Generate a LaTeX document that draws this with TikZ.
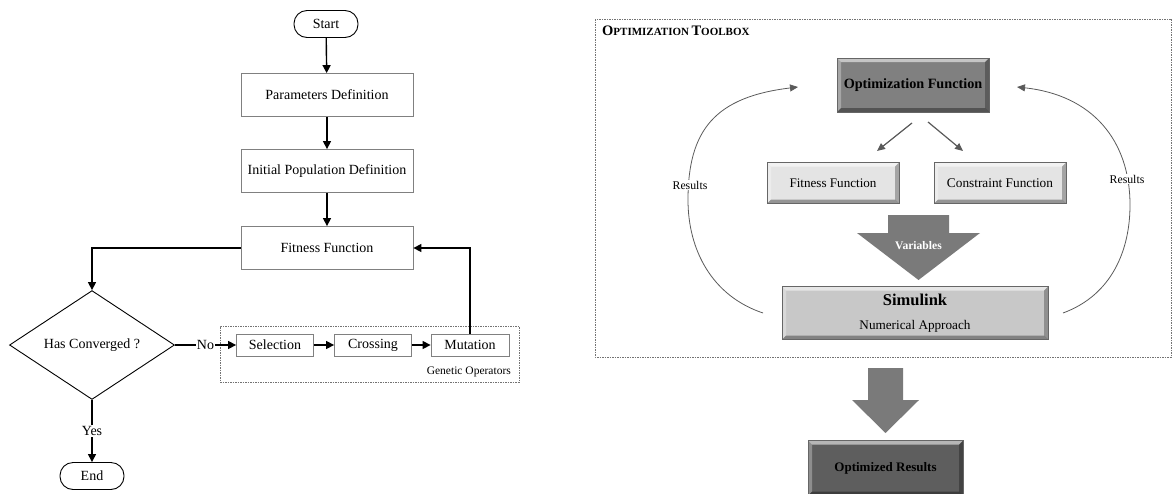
\documentclass[tikz,border=0pt]{standalone}
\usepackage{fontspec}
\setmainfont{Liberation Serif}
\usetikzlibrary{shapes.geometric,arrows.meta,calc}
\definecolor{optfill}{HTML}{808080}
\definecolor{lightfill}{HTML}{E4E4E4}
\definecolor{simfill}{HTML}{C8C8C8}
\definecolor{resfill}{HTML}{5E5E5E}
\definecolor{bigarrow}{HTML}{7A7A7A}
\definecolor{curvecol}{HTML}{5A5A5A}
\begin{document}
\begin{tikzpicture}[x=1pt,y=-1pt,
  txt/.style={font=\fontsize{14}{16}\selectfont},
  pill/.style={txt,draw=black,line width=0.9pt,rounded corners=13pt,minimum width=64pt,minimum height=27pt,inner sep=0pt},
  flowbox/.style={txt,draw=black!50,line width=0.8pt,fill=white,minimum width=172pt,minimum height=43pt,inner sep=0pt},
  opbox/.style={flowbox,minimum width=77pt,minimum height=22pt},
  decision/.style={txt,diamond,draw=black,line width=0.9pt,minimum width=165pt,minimum height=104pt,inner sep=0pt},
  arr/.style={-{Triangle[length=8pt,width=8pt]},line width=1.4pt},
  lbl/.style={txt,fill=white,inner sep=1pt},
  dashbox/.style={draw=black!55,line width=0.6pt,dash pattern=on 1.5pt off 1pt},
  bevel/.style={path picture={
    \fill[white,opacity=.55] (path picture bounding box.north west) -- (path picture bounding box.north east) -- ([shift={(-4pt,-4pt)}]path picture bounding box.north east) -- ([shift={(4pt,-4pt)}]path picture bounding box.north west) -- cycle;
    \fill[white,opacity=.3] (path picture bounding box.north west) -- ([shift={(4pt,-4pt)}]path picture bounding box.north west) -- ([shift={(4pt,4pt)}]path picture bounding box.south west) -- (path picture bounding box.south west) -- cycle;
    \fill[black,opacity=.35] (path picture bounding box.south west) -- ([shift={(4pt,4pt)}]path picture bounding box.south west) -- ([shift={(-4pt,4pt)}]path picture bounding box.south east) -- (path picture bounding box.south east) -- cycle;
    \fill[black,opacity=.28] (path picture bounding box.north east) -- (path picture bounding box.south east) -- ([shift={(-4pt,4pt)}]path picture bounding box.south east) -- ([shift={(-4pt,-4pt)}]path picture bounding box.north east) -- cycle;
  }},
  bbox/.style={bevel,draw=black!60,line width=0.7pt,inner sep=0pt},
  garr/.style={-{Triangle[length=8pt,width=7pt]},draw=curvecol,line width=1.2pt},
  curve/.style={-{Triangle[length=8pt,width=7pt]},draw=curvecol,line width=0.8pt},
  reslbl/.style={font=\fontsize{11.8}{13}\selectfont,fill=white,inner sep=1pt}
]
\useasboundingbox (0,0) rectangle (1172,493);

% ---------------- left flowchart ----------------
\node[pill] (start) at (326,24) {Start};
\node[flowbox] (params) at (327,95) {Parameters Definition};
\node[flowbox] (init) at (327,171) {Initial Population Definition};
\node[flowbox] (fit) at (327,248) {Fitness Function};
\node[decision] (dia) at (92,345) {Has Converged ?};
\node[dashbox,minimum width=299pt,minimum height=56pt,inner sep=0pt] (gen) at (369.5,354) {};
\node[opbox] (sel) at (275,345) {Selection};
\node[opbox] (cross) at (373,345) {Crossing};
\node[opbox,minimum width=78pt] (mut) at (470,345) {Mutation};
\node[font=\fontsize{11.5}{13}\selectfont,anchor=east,inner sep=0pt] (genlbl) at (511,372) {Genetic Operators};
\node[pill] (end) at (92,476) {End};

\draw[arr] (start) -- (params);
\draw[arr] (params) -- (init);
\draw[arr] (init) -- (fit);
\draw[arr] (fit.west) -| (dia.north);
\draw[arr] (dia.east) -- node[lbl] {No} (sel.west);
\draw[arr] (sel) -- (cross);
\draw[arr] (cross) -- (mut);
\draw[arr] (mut.north) |- (fit.east);
\draw[arr] (dia.south) -- node[lbl] {Yes} (end.north);

% ---------------- right part ----------------
\draw[dashbox] (595,19) rectangle (1171,357);
\node[anchor=west,inner sep=0pt] (title) at (602,31)
  {\bfseries{\fontsize{14.5}{15}\selectfont O}{\fontsize{11}{12}\selectfont PTIMIZATION} {\fontsize{14.5}{15}\selectfont T}{\fontsize{11}{12}\selectfont OOLBOX}};

\node[bbox,fill=optfill,minimum width=152pt,minimum height=54pt,font=\fontsize{14.2}{16}\selectfont\bfseries] (opt) at (913,85) {Optimization Function};
\node[bbox,fill=lightfill,minimum width=132pt,minimum height=41pt,font=\fontsize{13.1}{15}\selectfont] (fitF) at (833,183) {Fitness Function};
\node[bbox,fill=lightfill,minimum width=132pt,minimum height=41pt,font=\fontsize{13.3}{15}\selectfont] (conF) at (1000,183) {Constraint Function};
\node[bbox,fill=simfill,minimum width=266pt,minimum height=53pt,align=center,font=\fontsize{13.2}{24}\selectfont] (sim) at (915,313)
  {{\fontsize{16.5}{24}\selectfont\bfseries Simulink}\\ Numerical Approach};
\node[bbox,fill=resfill,minimum width=155pt,minimum height=55pt,font=\fontsize{13}{15}\selectfont\bfseries] (optR) at (885.5,468) {Optimized Results};

\coordinate (a1s) at (912,123);
\coordinate (a1e) at (877,151);
\coordinate (a2s) at (928,122);
\coordinate (a2e) at (963,151);
\draw[garr] (a1s) -- (a1e);
\draw[garr] (a2s) -- (a2e);

% Variables arrow
\fill[bigarrow] (888,215) -- (949,215) -- (949,233) -- (980,233) -- (918.5,280) -- (857,233) -- (888,233) -- cycle;
\node[white,font=\fontsize{11.6}{13}\selectfont\bfseries] (var) at (918.5,246) {Variables};

% output arrow
\fill[bigarrow] (868,368) -- (903,368) -- (903,400) -- (919,400) -- (885.5,433) -- (852,400) -- (868,400) -- cycle;

% Results loops
\coordinate (lS) at (763,313);
\coordinate (lE) at (798,87);
\coordinate (rS) at (1063,313);
\coordinate (rE) at (1017,87);
\draw[curve] (lS) .. controls (712,296) and (688,250) .. (688,200) .. controls (688,130) and (715,97) .. (lE);
\draw[curve] (rS) .. controls (1112,295) and (1130,250) .. (1130,205) .. controls (1130,140) and (1092,95) .. (rE);
\node[reslbl] (resL) at (690,185) {Results};
\node[reslbl] (resR) at (1127,179) {Results};
\end{tikzpicture}
\end{document}
